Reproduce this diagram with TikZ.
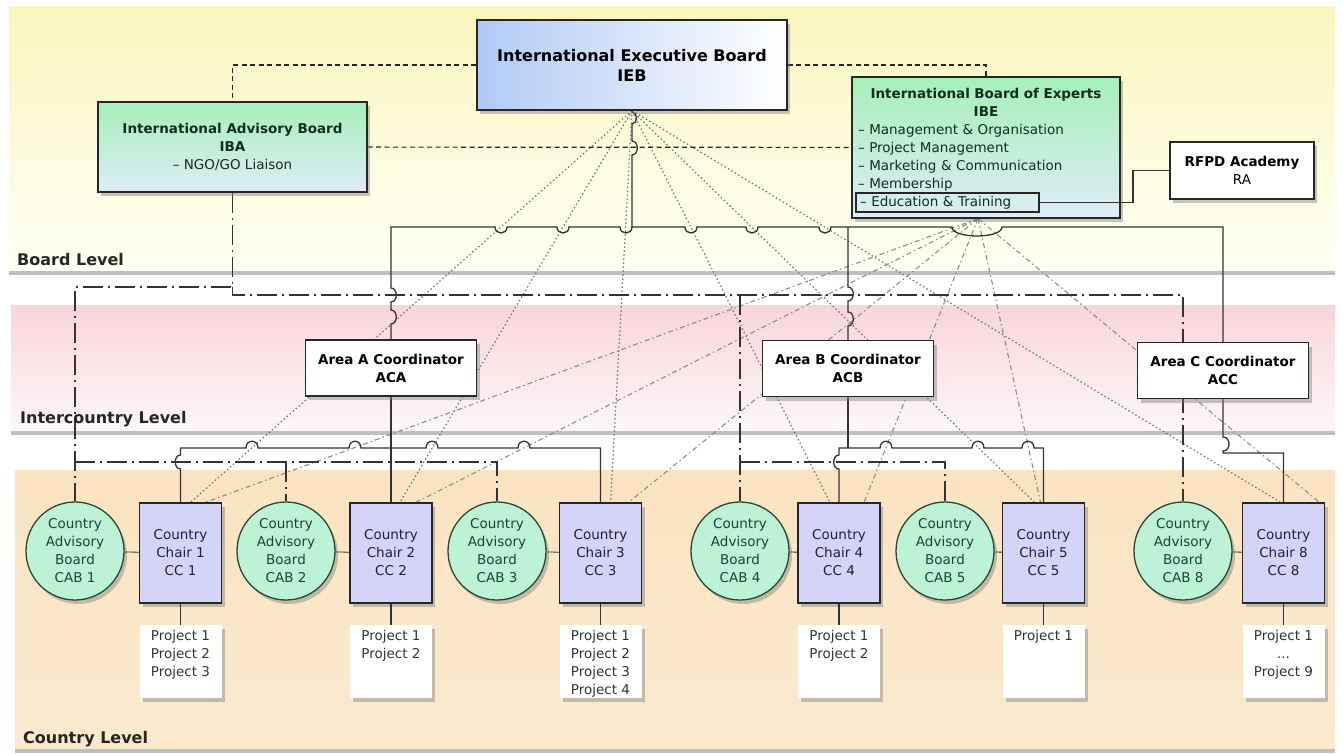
\documentclass[tikz,border=0pt]{standalone}
\usepackage{fontspec}
\setmainfont{DejaVu Sans}
\usetikzlibrary{positioning,shadows,backgrounds}
\definecolor{boardtop}{RGB}{250,246,190}
\definecolor{boardbot}{RGB}{254,254,244}
\definecolor{intertop}{RGB}{248,213,218}
\definecolor{interbot}{RGB}{253,246,247}
\definecolor{countrytop}{RGB}{251,227,193}
\definecolor{countrybot}{RGB}{250,233,207}
\definecolor{iebblue}{RGB}{176,202,245}
\definecolor{advgreen}{RGB}{165,240,185}
\definecolor{advblue}{RGB}{222,236,246}
\definecolor{advtext}{RGB}{20,45,35}
\definecolor{cabfill}{RGB}{190,242,215}
\definecolor{cabline}{RGB}{35,75,50}
\definecolor{cabtext}{RGB}{20,70,55}
\definecolor{ccfill}{RGB}{212,212,250}
\definecolor{cctext}{RGB}{30,30,70}
\newcommand\projlist[1]{\parbox[t][62pt][t]{80pt}{\centering #1}}

\begin{document}
\begin{tikzpicture}[x=1pt,y=-1pt,
		every node/.style={align=center,font=\fontsize{13.5}{18}\selectfont},
		boxshadow/.style={drop shadow={opacity=.45,shadow xshift=3pt,shadow yshift=-4pt}},
		orgbox/.style={rectangle,draw=black!85,line width=1.3pt,boxshadow},
		iebbox/.style={orgbox,left color=iebblue,right color=white,minimum width=310pt,minimum height=90pt,
			font=\bfseries\fontsize{16}{20}\selectfont},
		advbox/.style={orgbox,top color=advgreen,bottom color=advblue,text=advtext},
		coordbox/.style={orgbox,fill=white,minimum width=171pt,minimum height=56pt,
			font=\bfseries\fontsize{13.5}{18}\selectfont},
		cabnode/.style={circle,draw=cabline,line width=1.3pt,fill=cabfill,minimum size=98pt,inner sep=0pt,
			text=cabtext,boxshadow},
		ccnode/.style={orgbox,fill=ccfill,minimum width=82pt,minimum height=100pt,text=cctext},
		projnode/.style={fill=white,minimum width=82pt,minimum height=73pt,inner sep=0pt,text=black!80,boxshadow},
		levellabel/.style={anchor=base west,inner sep=0pt,font=\bfseries\fontsize{16}{19}\selectfont,text=black!85},
		orglink/.style={draw=black!80,line width=1.3pt},
		dashlink/.style={draw=black!85,line width=1.2pt,dash pattern=on 5pt off 3.5pt},
		dashdotlink/.style={draw=black!80,line width=1.3pt,dash pattern=on 20pt off 5pt on 2pt off 5pt},
		iebfan/.style={draw=black!55,line width=1.2pt,dash pattern=on 1.5pt off 2.5pt},
		ibefan/.style={draw=black!45,line width=1.1pt,dash pattern=on 5pt off 3pt on 1.5pt off 3pt}
		]
		\useasboundingbox (0,0) rectangle (1343,754);
		% board level
		\node[iebbox] (ieb) at (632,65) {International Executive Board\\IEB};
		\node[advbox,minimum width=269pt,minimum height=90pt] (iba) at (232.5,147)
			{\textbf{International Advisory Board}\\\textbf{IBA}\\– NGO/GO Liaison};
		\node[advbox,text width=256pt,inner xsep=6pt,minimum height=141pt,align=left] (ibe) at (986,147.5)
			{\centering\bfseries\rule{0pt}{16pt}International Board of Experts\\IBE\par
			\raggedright\mdseries – Management \& Organisation\\– Project Management\\
			– Marketing \& Communication\\– Membership\\\strut};
		\node[draw=black!85,line width=1.2pt,text width=175pt,inner xsep=4pt,inner ysep=1pt,minimum height=19pt,
			align=left,text=advtext] (edu) at (947.5,202.5) {– Education \& Training};
		\node[orgbox,fill=white,minimum width=144pt,minimum height=57pt] (ra) at (1242,170.5)
			{\textbf{RFPD Academy}\\RA};
		% intercountry level
		\node[coordbox] (aca) at (391,368) {Area A Coordinator\\ACA};
		\node[coordbox] (acb) at (848,368.5) {Area B Coordinator\\ACB};
		\node[coordbox] (acc) at (1223,370.5) {Area C Coordinator\\ACC};
		% country level
		\foreach \n/\xa/\xc/\plist in {
			1/75/180.5/{Project 1\\Project 2\\Project 3},
			2/286/391/{Project 1\\Project 2},
			3/497/600.5/{Project 1\\Project 2\\Project 3\\Project 4},
			4/740/839/{Project 1\\Project 2},
			5/945/1043.5/{Project 1},
			8/1183/1283.5/{Project 1\\...\\Project 9}}{
			\node[cabnode] (cab\n) at (\xa,551) {Country\\Advisory\\Board\\CAB \n};
			\node[ccnode] (cc\n) at (\xc,553) {Country\\Chair \n\\CC \n};
			\node[projnode] (pr\n) at (\xc,661.5) {\projlist{\plist}};
			\draw[orglink,line width=.8pt] (cab\n) -- (cc\n);
			\draw[orglink] (cc\n) -- (pr\n);
		}
		\node[levellabel] (lboard) at (17,265) {Board Level};
		\node[levellabel] (linter) at (20,423) {Intercountry Level};
		\node[levellabel] (lcountry) at (23,743) {Country Level};
		\draw[orglink,line width=1.1pt] (edu.east) -- (1133,202.5) |- (ra.west);
		\begin{pgfonlayer}{background}
			\fill[white] (0,0) rectangle (1343,754);
			\path[top color=boardtop,bottom color=boardbot,drop shadow={opacity=.5,shadow xshift=0pt,shadow yshift=-5pt}]
				(9,7) rectangle (1335,270);
			\path[top color=intertop,bottom color=interbot,drop shadow={opacity=.5,shadow xshift=0pt,shadow yshift=-5pt}]
				(11,305) rectangle (1335,430);
			\path[top color=countrytop,bottom color=countrybot,drop shadow={opacity=.5,shadow xshift=0pt,shadow yshift=-5pt}]
				(15,470) rectangle (1335,748);
			% fans to the country chairs
			\foreach \c/\dx in {1/10,2/9,3/10,4/-9,5/-9,8/-3}
				\draw[iebfan] (ieb.south) -- ([xshift=\dx pt]cc\c.north);
			\foreach \c/\dx in {1/25,2/25,3/28,4/25,5/-3,8/36}
				\draw[ibefan] ([xshift=-8pt]ibe.south) -- ([xshift=\dx pt]cc\c.north);
			\draw[dashlink] (ieb.west) -| (iba.north);
			\draw[dashlink] (ieb.east) -| (ibe.north);
			\draw[dashlink] (iba) -- (ibe);
			% board to coordinators
			\coordinate (jieb) at (632,227);
			\coordinate (jacb) at (848,227);
			\draw[orglink] (ieb.south) -- (632,112) .. controls +(6,0) and +(6,0) .. (632,124) -- (632,141)
				.. controls +(7,0) and +(7,0) .. (632,155) -- (jieb);
			\draw[orglink] (aca.north) -- (391,324) .. controls +(7,0) and +(7,0) .. (391,310) -- (391,302)
				.. controls +(7,0) and +(7,0) .. (391,288) -- (391,227)
				-- (495,227) .. controls +(0,8) and +(0,8) .. (507,227)
				-- (557,227) .. controls +(0,8) and +(0,8) .. (569,227)
				-- (620,227) .. controls +(0,8) and +(0,8) .. (632,227)
				-- (685,227) .. controls +(0,8) and +(0,8) .. (697,227)
				-- (746,227) .. controls +(0,8) and +(0,8) .. (758,227)
				-- (819,227) .. controls +(0,8) and +(0,8) .. (831,227)
				-- (952,227) .. controls +(0,12) and +(0,12) .. (1002,227)
				-- (1223,227) -- (acc.north);
			\draw[orglink] (jacb) -- (848,287) .. controls +(7,0) and +(7,0) .. (848,301) -- (848,312)
				.. controls +(7,0) and +(7,0) .. (848,326) -- (acb.north);
			% coordinators to country chairs
			\draw[orglink] (aca.south) -- (cc2.north);
			\draw[orglink] (cc1.north) -- (180.5,469) .. controls +(-7,0) and +(-7,0) .. (180.5,455) -- (180.5,448)
				-- (246,448) .. controls +(0,-9) and +(0,-9) .. (258,448)
				-- (349,448) .. controls +(0,-9) and +(0,-9) .. (361,448)
				-- (426,448) .. controls +(0,-9) and +(0,-9) .. (438,448)
				-- (518,448) .. controls +(0,-9) and +(0,-9) .. (530,448)
				-- (600.5,448) -- (cc3.north);
			\draw[orglink] (acb.south) -- (848,448);
			\draw[orglink] (cc4.north) -- (839,469) .. controls +(-7,0) and +(-7,0) .. (839,455) -- (839,448)
				-- (880,448) .. controls +(0,-9) and +(0,-9) .. (892,448)
				-- (972,448) .. controls +(0,-9) and +(0,-9) .. (984,448)
				-- (1022,448) .. controls +(0,-9) and +(0,-9) .. (1034,448)
				-- (1043.5,448) -- (cc5.north);
			\draw[orglink] (acc.south) -- (1223,437) .. controls +(8,0) and +(8,0) .. (1223,451) -- (1223,453)
				-- (1283.5,453) -- (cc8.north);
			% advisory links
			\draw[dashdotlink] (iba.south) -- (232.5,287) -| (cab1.north);
			\draw[dashdotlink] (232.5,287) -- (232.5,295) -| (cab8.north);
			\draw[dashdotlink] (740,295) -- (cab4.north);
			\draw[dashdotlink] (75,462) -| (cab3.north);
			\draw[dashdotlink] (286,462) -- (cab2.north);
			\draw[dashdotlink] (740,462) -| (cab5.north);
		\end{pgfonlayer}
	\end{tikzpicture}
\end{document}
